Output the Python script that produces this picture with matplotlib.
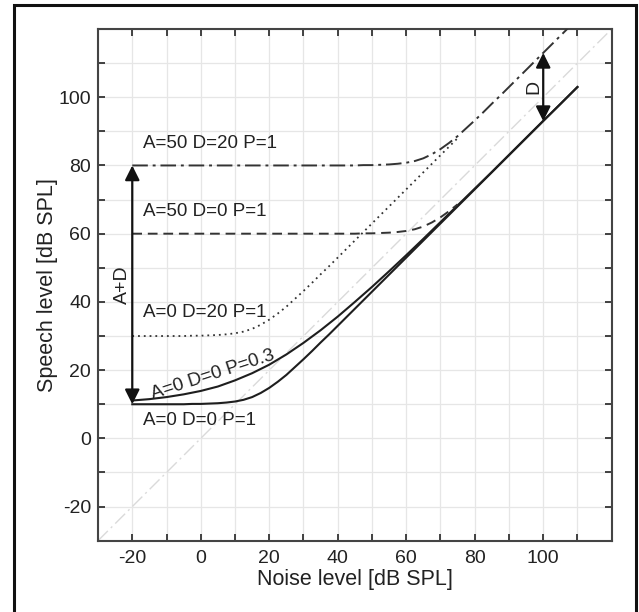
import matplotlib
matplotlib.use("Agg")
import matplotlib.pyplot as plt
from matplotlib.patches import Rectangle

plt.rcParams['font.family'] = ['Liberation Sans', 'DejaVu Sans']

# Noise level samples [dB SPL] (fine grid)
noise = [-20, -17.5, -15, -12.5, -10, -7.5, -5, -2.5, 0, 2.5, 5, 7.5, 10, 12.5, 15, 17.5,
         20, 22.5, 25, 27.5, 30, 32.5, 35, 37.5, 40, 42.5, 45, 47.5, 50, 52.5, 55, 57.5,
         60, 62.5, 65, 67.5, 70, 72.5, 75, 77.5, 80, 82.5, 85, 87.5, 90, 92.5, 95, 97.5,
         100, 102.5, 105, 107.5, 110]
# coarser grid for the P=0.3 curve
noise_c = [-20, -15, -10, -5, 0, 5, 10, 15, 20, 25, 30, 35, 40, 45, 50, 55,
           60, 65, 70, 75, 80, 85, 90, 95, 100, 105, 110]

# A=0 D=0 P=1 (solid)
s_a0_d0_p1 = [10.0, 10.0, 10.0, 10.0, 10.0, 10.0, 10.0, 10.1, 10.1, 10.2, 10.3, 10.5,
              10.8, 11.3, 12.1, 13.3, 14.8, 16.6, 18.6, 20.9, 23.2, 25.6, 28.1, 30.5,
              33.0, 35.5, 38.0, 40.5, 43.0, 45.5, 48.0, 50.5, 53.0, 55.5, 58.0, 60.5,
              63.0, 65.5, 68.0, 70.5, 73.0, 75.5, 78.0, 80.5, 83.0, 85.5, 88.0, 90.5,
              93.0, 95.5, 98.0, 100.5, 103.0]
# A=0 D=0 P=0.3 (solid)
s_a0_d0_p03 = [11.1, 11.5, 12.1, 12.9, 13.9, 15.2, 17.0, 19.1, 21.6, 24.6, 28.0, 31.7,
               35.7, 40.0, 44.4, 49.0, 53.7, 58.5, 63.4, 68.3, 73.2, 78.1, 83.1, 88.1,
               93.1, 98.0, 103.0]
# A=0 D=20 P=1 (dotted), noise -20..75
s_a0_d20_p1 = [30.0, 30.0, 30.0, 30.0, 30.0, 30.0, 30.0, 30.1, 30.1, 30.2, 30.3, 30.5,
               30.8, 31.3, 32.1, 33.3, 34.8, 36.6, 38.6, 40.9, 43.2, 45.6, 48.1, 50.5,
               53.0, 55.5, 58.0, 60.5, 63.0, 65.5, 68.0, 70.5, 73.0, 75.5, 78.0, 80.5,
               83.0, 85.5, 88.0]
# A=50 D=0 P=1 (dashed), noise -20..75
s_a50_d0_p1 = [60.0, 60.0, 60.0, 60.0, 60.0, 60.0, 60.0, 60.0, 60.0, 60.0, 60.0, 60.0,
               60.0, 60.0, 60.0, 60.0, 60.0, 60.0, 60.0, 60.0, 60.0, 60.0, 60.0, 60.0,
               60.0, 60.0, 60.0, 60.1, 60.1, 60.2, 60.3, 60.5, 60.8, 61.3, 62.1, 63.3,
               64.8, 66.6, 68.6]
# A=50 D=20 P=1 (dash-dot)
s_a50_d20_p1 = [80.0, 80.0, 80.0, 80.0, 80.0, 80.0, 80.0, 80.0, 80.0, 80.0, 80.0, 80.0,
                80.0, 80.0, 80.0, 80.0, 80.0, 80.0, 80.0, 80.0, 80.0, 80.0, 80.0, 80.0,
                80.0, 80.0, 80.0, 80.1, 80.1, 80.2, 80.3, 80.5, 80.8, 81.3, 82.1, 83.3,
                84.8, 86.6, 88.6, 90.9, 93.2, 95.6, 98.1, 100.5, 103.0, 105.5, 108.0,
                110.5, 113.0, 115.5, 118.0, 120.5, 123.0]

labels = ["A=50 D=20 P=1", "A=50 D=0 P=1", "A=0 D=20 P=1", "A=0 D=0 P=0.3", "A=0 D=0 P=1"]
tick_vals = [-20, 0, 20, 40, 60, 80, 100]
tick_pos = [-20, -10, 0, 10, 20, 30, 40, 50, 60, 70, 80, 90, 100, 110]

fig = plt.figure(figsize=(6.39, 6.12), dpi=100)
ax = fig.add_axes([0.1534, 0.1165, 0.8039, 0.8361])
ax.set_xlim(-30, 120)
ax.set_ylim(-30, 120)

ax.set_xticks(tick_pos)
ax.set_xticklabels([str(v) if v in tick_vals else "" for v in tick_pos])
ax.set_yticks(tick_pos)
ax.set_yticklabels([str(v) if v in tick_vals else "" for v in tick_pos])
ax.tick_params(direction='in', length=5, width=1.3, color='#333333',
               top=True, right=True, labelsize=14, labelcolor='#222222')
ax.tick_params(axis='x', pad=7)
ax.tick_params(axis='y', pad=5)
for sp in ax.spines.values():
    sp.set_color('#444444')
    sp.set_linewidth(1.5)

for g in range(-30, 121, 10):
    ax.axvline(g, color='#e6e6e6', lw=0.9, zorder=0)
    ax.axhline(g, color='#e6e6e6', lw=0.9, zorder=0)

# identity diagonal
ax.plot([-30, 120], [-30, 120], color='#dadada', lw=1.0, ls=(0, (10, 3, 1.5, 3)), zorder=1)

c = '#1e1e1e'
n = len(s_a0_d20_p1)
ax.plot(noise, s_a0_d0_p1, color=c, lw=1.5, zorder=3)
ax.plot(noise_c, s_a0_d0_p03, color=c, lw=1.5, zorder=3)
ax.plot(noise[:n], s_a0_d20_p1, color='#333333', lw=1.3, ls=(0, (1, 2.2)), zorder=3)
ax.plot(noise[:len(s_a50_d0_p1)], s_a50_d0_p1, color='#333333', lw=1.4, ls=(0, (5, 3)), zorder=3)
ax.plot(noise, s_a50_d20_p1, color='#333333', lw=1.4, ls=(0, (8, 2.5, 1.5, 2.5)), zorder=3)

# arrows
ax.annotate("", xy=(-20, 80), xytext=(-20, 10),
            arrowprops=dict(arrowstyle='<|-|>', color='#111111', lw=1.6,
                            mutation_scale=22, shrinkA=0, shrinkB=0), zorder=4)
ax.annotate("", xy=(100, 113), xytext=(100, 93),
            arrowprops=dict(arrowstyle='<|-|>', color='#111111', lw=1.6,
                            mutation_scale=22, shrinkA=0, shrinkB=0), zorder=4)
ax.text(-20.3, 45, "A+D", rotation=90, ha='right', va='center', fontsize=14, color='#222222')
ax.text(99.7, 103, "D", rotation=90, ha='right', va='center', fontsize=14, color='#222222')

# curve labels
fs = 13.5
ax.text(-16.8, 86.5, labels[0], ha='left', va='center', fontsize=fs, color='#222222')
ax.text(-16.8, 66.6, labels[1], ha='left', va='center', fontsize=fs, color='#222222')
ax.text(-16.8, 36.8, labels[2], ha='left', va='center', fontsize=fs, color='#222222')
ax.text(3.5, 18.6, labels[3], ha='center', va='center', fontsize=fs, rotation=18,
        rotation_mode='anchor', color='#222222')
ax.text(-16.8, 5.2, labels[4], ha='left', va='center', fontsize=fs, color='#222222')

ax.set_xlabel("Noise level [dB SPL]", fontsize=15.5, color='#222222', labelpad=1)
ax.set_ylabel("Speech level [dB SPL]", fontsize=15.5, color='#222222', labelpad=0)

# figure border
fig.add_artist(Rectangle((14 / 639, -0.02), (636 - 14) / 639, 1 - 5 / 612 + 0.02,
                         transform=fig.transFigure, fill=False, edgecolor='#111111',
                         lw=2.2, zorder=10))

fig.savefig("out.png", dpi=100)
